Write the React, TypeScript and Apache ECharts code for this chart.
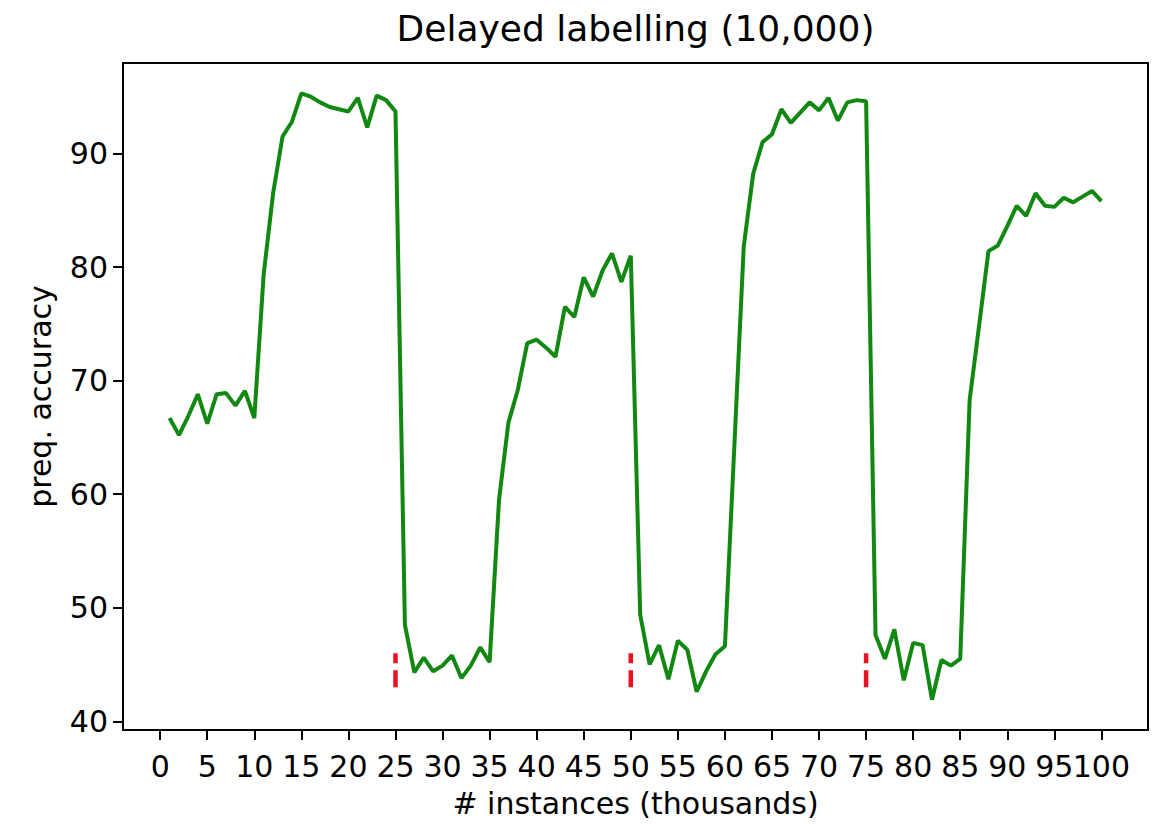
import React, { useEffect, useRef } from "react";
import * as echarts from "echarts";

const TITLE = "Delayed labelling (10,000)";
const X_NAME = "# instances (thousands)";
const Y_NAME = "preq. accuracy";

const instances: number[] = [
  1, 2, 3, 4, 5, 6, 7, 8, 9, 10,
  11, 12, 13, 14, 15, 16, 17, 18, 19, 20,
  21, 22, 23, 24, 25, 26, 27, 28, 29, 30,
  31, 32, 33, 34, 35, 36, 37, 38, 39, 40,
  41, 42, 43, 44, 45, 46, 47, 48, 49, 50,
  51, 52, 53, 54, 55, 56, 57, 58, 59, 60,
  61, 62, 63, 64, 65, 66, 67, 68, 69, 70,
  71, 72, 73, 74, 75, 76, 77, 78, 79, 80,
  81, 82, 83, 84, 85, 86, 87, 88, 89, 90,
  91, 92, 93, 94, 95, 96, 97, 98, 99, 100,
];

const accuracy: number[] = [
  66.7, 65.2, 66.9, 68.8, 66.2, 68.8, 68.9, 67.8, 69.1, 66.7,
  79.4, 86.5, 91.5, 92.8, 95.3, 95.0, 94.5, 94.1, 93.9, 93.7,
  94.9, 92.3, 95.1, 94.7, 93.7, 48.5, 44.3, 45.6, 44.4, 44.9,
  45.8, 43.8, 44.9, 46.5, 45.2, 59.5, 66.3, 69.2, 73.3, 73.6,
  72.9, 72.1, 76.5, 75.6, 79.1, 77.4, 79.7, 81.2, 78.7, 81.0,
  49.4, 45.0, 46.7, 43.7, 47.1, 46.3, 42.6, 44.4, 45.9, 46.6,
  64.2, 81.8, 88.2, 91.0, 91.7, 93.9, 92.7, 93.6, 94.5, 93.8,
  94.9, 92.9, 94.5, 94.7, 94.6, 47.6, 45.5, 48.1, 43.6, 46.9,
  46.7, 41.9, 45.4, 44.9, 45.5, 68.3, 74.8, 81.4, 81.9, 83.6,
  85.4, 84.5, 86.5, 85.4, 85.3, 86.1, 85.7, 86.2, 86.7, 85.8,
];

// concept-drift markers (x position, lower and upper value)
const driftX: number[] = [25, 50, 75];
const driftLow = 43;
const driftHigh = 46;

const xTicks: number[] = [0, 5, 10, 15, 20, 25, 30, 35, 40, 45, 50, 55, 60, 65, 70, 75, 80, 85, 90, 95, 100];
// labels drawn on the main axis and on a companion axis (they touch, so split them)
const xLabelsMain: number[] = [0, 5, 10, 15, 20, 25, 30, 35, 40, 45, 50, 55, 60, 65, 70, 75, 80, 85, 90, 100];
const xLabelsExtra: number[] = [95];
const yTicks: number[] = [40, 50, 60, 70, 80, 90];

const FONT = "DejaVu Sans";

export default function App() {
  const ref = useRef<HTMLDivElement>(null);

  useEffect(() => {
    if (!ref.current) return;
    const chart = echarts.init(ref.current, null, { renderer: "svg" });

    const xMinData = Math.min(...instances);
    const xMaxData = Math.max(...instances);
    const xPad = (xMaxData - xMinData) * 0.05;
    const yMinData = Math.min(...accuracy, driftLow);
    const yMaxData = Math.max(...accuracy, driftHigh);
    const yPad = (yMaxData - yMinData) * 0.05;

    const gridLeft = 123;
    const gridRight = 26;
    const plotCenterX = (gridLeft + (1174 - gridRight)) / 2;

    const labelStyle = { fontFamily: FONT, fontSize: 30, color: "#000" };

    const mainSeries = {
      type: "line",
      xAxisIndex: 0,
      data: instances.map((x, i) => [x, accuracy[i]]),
      showSymbol: false,
      symbol: "none",
      lineStyle: { color: "#118811", width: 4 },
      z: 3,
    };

    const driftSeries = driftX.map((x) => ({
      type: "line",
      xAxisIndex: 0,
      data: [
        [x, driftLow],
        [x, driftHigh],
      ],
      showSymbol: false,
      symbol: "none",
      lineStyle: { color: "#ee1122", width: 4.5, type: [17, 7] },
      z: 4,
    }));

    chart.setOption({
      animation: false,
      backgroundColor: "#ffffff",
      graphic: [
        {
          type: "text",
          x: plotCenterX,
          y: 10,
          style: {
            text: TITLE,
            fontFamily: FONT,
            fontSize: 36,
            fill: "#000",
            textAlign: "center",
            textVerticalAlign: "top",
          },
        },
      ],
      grid: {
        left: gridLeft,
        right: gridRight,
        top: 63,
        bottom: 94,
        show: true,
        borderColor: "#000",
        borderWidth: 2,
        backgroundColor: "transparent",
      },
      xAxis: [
        {
          type: "value",
          position: "bottom",
          min: xMinData - xPad,
          max: xMaxData + xPad,
          name: X_NAME,
          nameLocation: "middle",
          nameGap: 58,
          nameTextStyle: labelStyle,
          axisLine: { show: true, onZero: false, lineStyle: { color: "#000", width: 2 } },
          axisTick: { show: true, length: 10, lineStyle: { color: "#000", width: 2 }, customValues: xTicks },
          axisLabel: { ...labelStyle, margin: 21, customValues: xLabelsMain, hideOverlap: false },
          splitLine: { show: false },
        },
        {
          type: "value",
          position: "bottom",
          offset: 0,
          min: xMinData - xPad,
          max: xMaxData + xPad,
          axisLine: { show: false, onZero: false },
          axisTick: { show: false },
          axisLabel: { ...labelStyle, margin: 21, customValues: xLabelsExtra, hideOverlap: false },
          splitLine: { show: false },
        },
      ],
      yAxis: {
        type: "value",
        min: yMinData - yPad,
        max: yMaxData + yPad,
        name: Y_NAME,
        nameLocation: "middle",
        nameGap: 68,
        nameRotate: 90,
        nameTextStyle: labelStyle,
        axisLine: { show: true, onZero: false, lineStyle: { color: "#000", width: 2 } },
        axisTick: { show: true, length: 10, lineStyle: { color: "#000", width: 2 }, customValues: yTicks },
        axisLabel: { ...labelStyle, margin: 15, customValues: yTicks, hideOverlap: false },
        splitLine: { show: false },
      },
      series: [mainSeries, ...driftSeries],
    });

    return () => {
      chart.dispose();
    };
  }, []);

  return (
    <div
      ref={ref}
      style={{ position: "fixed", left: 0, top: 0, width: 1174, height: 824, background: "#fff" }}
    />
  );
}
